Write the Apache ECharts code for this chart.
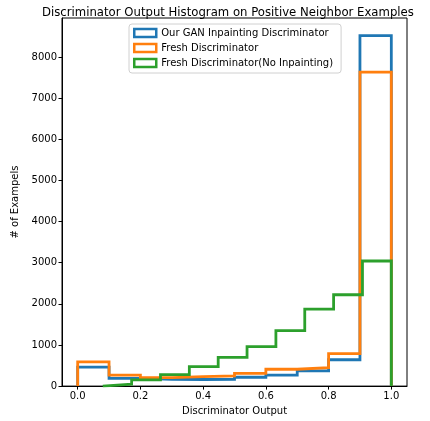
<!DOCTYPE html>
<html>
<head>
<meta charset="utf-8">
<script src="https://cdn.jsdelivr.net/npm/echarts@6/dist/echarts.min.js"></script>
<style>html,body{margin:0;padding:0;background:#fff}#c{width:430px;height:421px}</style>
</head>
<body>
<div id="c"></div>
<script>
var seriesNames = ['Our GAN Inpainting Discriminator', 'Fresh Discriminator', 'Fresh Discriminator(No Inpainting)'];
var edgesGan = [0.0, 0.1, 0.2, 0.3, 0.4, 0.5, 0.6, 0.7, 0.8, 0.9, 1.0];
var countsGan = [460, 190, 165, 160, 165, 215, 265, 370, 640, 8520];
var edgesFresh = [0.0, 0.1, 0.2, 0.3, 0.4, 0.5, 0.6, 0.7, 0.8, 0.9, 1.0];
var countsFresh = [590, 265, 205, 230, 250, 310, 410, 450, 790, 7630];
var edgesNoInp = [0.08, 0.172, 0.264, 0.356, 0.448, 0.54, 0.632, 0.724, 0.816, 0.908, 1.0];
var countsNoInp = [45, 150, 280, 475, 700, 960, 1350, 1870, 2220, 3040];
var xTicks = [0.0, 0.2, 0.4, 0.6, 0.8, 1.0];
var yTicks = [0, 1000, 2000, 3000, 4000, 5000, 6000, 7000, 8000];
var colors = ['#1f77b4', '#ff7f0e', '#2ca02c'];

function stepOutline(edges, counts) {
  var pts = [[edges[0], 0]];
  for (var i = 0; i < counts.length; i++) {
    pts.push([edges[i], counts[i]]);
    pts.push([edges[i + 1], counts[i]]);
  }
  pts.push([edges[edges.length - 1], 0]);
  return pts;
}

var font = 'DejaVu Sans';
var chart = echarts.init(document.getElementById('c'), null, {renderer: 'canvas'});
var allMax = Math.max.apply(null, countsGan.concat(countsFresh, countsNoInp));
var sets = [[edgesGan, countsGan], [edgesFresh, countsFresh], [edgesNoInp, countsNoInp]];

chart.setOption({
  animation: false,
  backgroundColor: '#fff',
  color: colors,
  title: {
    text: 'Discriminator Output Histogram on Positive Neighbor Examples',
    left: 37, top: 2,
    textStyle: {fontFamily: font, fontSize: 11.7, fontWeight: 'normal', color: '#000'}
  },
  legend: {
    orient: 'vertical', left: 129, top: 24,
    icon: 'rect', itemWidth: 22, itemHeight: 8, itemGap: 3,
    padding: [3, 8, 4, 4],
    backgroundColor: '#fff', borderColor: '#d0d0d0', borderWidth: 1, borderRadius: 3,
    textStyle: {fontFamily: font, fontSize: 10, color: '#000', lineHeight: 12},
    data: seriesNames.map(function (n, i) {
      return {name: n, itemStyle: {color: '#fff', borderColor: colors[i], borderWidth: 2.5}};
    })
  },
  grid: {left: 62, right: 23, top: 18, bottom: 33, show: true, borderColor: '#000', borderWidth: 1, containLabel: false},
  xAxis: {
    type: 'value', min: -0.05, max: 1.05,
    name: 'Discriminator Output', nameLocation: 'middle', nameGap: 18,
    nameTextStyle: {fontFamily: font, fontSize: 10, color: '#000'},
    axisLine: {show: true, onZero: false, lineStyle: {color: '#000', width: 1}},
    axisTick: {show: true, length: 3.5, lineStyle: {color: '#000'}, customValues: xTicks},
    axisLabel: {fontFamily: font, fontSize: 10, color: '#000', margin: 5, customValues: xTicks,
      formatter: function (v) { return v.toFixed(1); }},
    splitLine: {show: false}
  },
  yAxis: {
    type: 'value', min: 0, max: allMax * 1.05,
    name: '# of Exampels', nameLocation: 'middle', nameGap: 30, nameRotate: 90,
    nameTextStyle: {fontFamily: font, fontSize: 10, color: '#000'},
    axisLine: {show: true, onZero: false, lineStyle: {color: '#000', width: 1}},
    axisTick: {show: true, length: 3.5, lineStyle: {color: '#000'}, customValues: yTicks},
    axisLabel: {fontFamily: font, fontSize: 10, color: '#000', margin: 5, customValues: yTicks,
      formatter: function (v) { return String(v); }},
    splitLine: {show: false}
  },
  series: sets.map(function (s, i) {
    return {
      name: seriesNames[i], type: 'line', data: stepOutline(s[0], s[1]),
      symbol: 'none', clip: true,
      lineStyle: {width: 2.8, color: colors[i], join: 'miter', cap: 'butt'},
      itemStyle: {color: colors[i]},
      emphasis: {disabled: true}
    };
  })
});
</script>
</body>
</html>
